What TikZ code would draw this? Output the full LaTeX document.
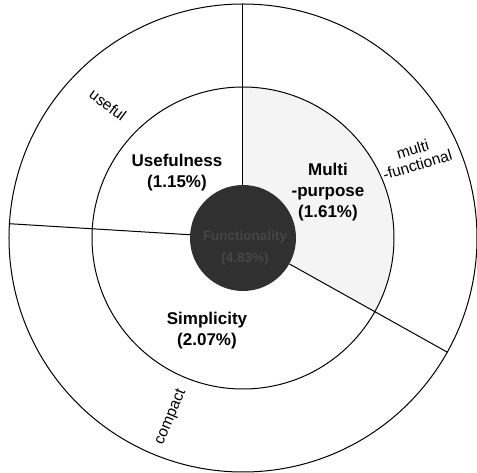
\documentclass[tikz,border=0pt]{standalone}
\usepackage{fontspec}
\usepackage{xcolor}
\usepackage{tikz}
\usetikzlibrary{positioning,calc}
\newfontfamily\chartfont{Liberation Sans}
\definecolor{Core}{HTML}{303030}
\definecolor{CoreText}{HTML}{464646}
\definecolor{Tint}{HTML}{F4F4F4}

\tikzset{
  ring/.style={line width=1pt},
  sectorlabel/.style={font=\chartfont\bfseries\fontsize{17}{21}\selectfont,align=center,inner sep=0pt},
  corelabel/.style={font=\chartfont\bfseries\fontsize{13.5}{22}\selectfont,align=center,inner sep=0pt,text=CoreText},
  ringlabel/.style={font=\chartfont\fontsize{15.5}{16}\selectfont,align=center,inner sep=0pt},
}

\begin{document}
\begin{tikzpicture}[x=1pt,y=1pt]
\useasboundingbox (-243,-235) rectangle (234,238);
\fill[white] (-243,-235) rectangle (234,238);
% shaded sector
\fill[Tint] (0,0) -- (-29.2:151) arc[start angle=-29.2,end angle=90,radius=151] -- cycle;
\draw[ring] (0,0) circle (234);
\draw[ring] (0,0) circle (151);
\node[circle,fill=Core,minimum size=106,inner sep=0pt] (core) at (0,0) {};
\coordinate (top) at (90:234);
\coordinate (left) at (176.5:234);
\coordinate (right) at (-29.2:234);
\draw[ring] (core) -- (top);
\draw[ring] (core) -- (left);
\draw[ring] (core) -- (right);
\node[corelabel] (coretext) at (2,-10) {Functionality\\(4.83\%)};
% inner ring
\node[sectorlabel] (usefulness) at (-66,65.5) {Usefulness\\(1.15\%)};
\node[sectorlabel] (multipurpose) at (85,45.5) {Multi\\-purpose\\(1.61\%)};
\node[sectorlabel] (simplicity) at (-36,-93) {Simplicity\\(2.07\%)};
% outer ring
\node[ringlabel,rotate=-37] (useful) at (-135,133) {useful};
\node[ringlabel,rotate=17] (multifunc) at (172,81) {multi\\-functional};
\node[ringlabel,rotate=67] (compact) at (-72,-179) {compact};
\end{tikzpicture}
\end{document}
